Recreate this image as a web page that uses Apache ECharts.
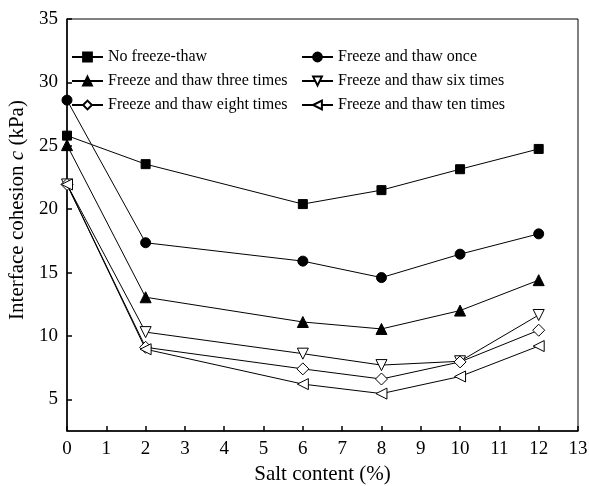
<!DOCTYPE html>
<html><head><meta charset="utf-8">
<script src="https://cdn.jsdelivr.net/npm/echarts@6/dist/echarts.min.js"></script>
<style>html,body{margin:0;padding:0;background:#fff}#c{width:589px;height:486px}</style>
</head><body><div id="c"></div>
<script>
const salt = [0, 2, 6, 8, 10, 12];
const noFT = [25.8, 23.55, 20.4, 21.5, 23.15, 24.75];
const once = [28.6, 17.35, 15.9, 14.6, 16.45, 18.05];
const three = [25.05, 13.05, 11.1, 10.55, 12.0, 14.4];
const six = [21.95, 10.3, 8.6, 7.7, 8.0, 11.65];
const eight = [21.95, 9.1, 7.4, 6.6, 7.95, 10.45];
const ten = [21.95, 8.95, 6.2, 5.45, 6.8, 9.2];
const yTicks = [5, 10, 15, 20, 25, 30, 35];
const names = ['No freeze-thaw','Freeze and thaw once','Freeze and thaw three times','Freeze and thaw six times','Freeze and thaw eight times','Freeze and thaw ten times'];

const font = 'Liberation Serif';
const pair = v => salt.map((x, i) => [x, v[i]]);
function s(name, data, symbol, size, fill, rot) {
  return {name, type:'line', data:pair(data), symbol, symbolSize:size, symbolRotate:rot||0,
    lineStyle:{color:'#000', width:1}, itemStyle:{color:fill, borderColor:'#000', borderWidth:1},
    emphasis:{disabled:true}, animation:false};
}
const chart = echarts.init(document.getElementById('c'));
const legendCommon = {orient:'vertical', itemWidth:31, itemHeight:11, itemGap:8,
  textStyle:{fontFamily:font, fontSize:16, color:'#000'}, selectedMode:false};
chart.setOption({
  backgroundColor:'#fff',
  animation:false,
  grid:{left:67, right:11, top:19, bottom:55, show:true, borderColor:'#000', borderWidth:1,
    containLabel:false, outerBoundsMode:'none'},
  legend:[
    Object.assign({left:66, top:44, data:[names[0], names[2], names[4]]}, legendCommon),
    Object.assign({left:296, top:44, data:[names[1], names[3], names[5]]}, legendCommon)
  ],
  xAxis:{type:'value', min:0, max:13, interval:1,
    name:'Salt content (%)', nameLocation:'middle', nameGap:30,
    nameTextStyle:{fontFamily:font, fontSize:21, color:'#000'},
    axisLine:{lineStyle:{color:'#000', width:1.5}},
    axisTick:{inside:true, length:5, lineStyle:{color:'#000', width:1.5}},
    axisLabel:{fontFamily:font, fontSize:19, color:'#000', margin:9},
    splitLine:{show:false}},
  yAxis:{type:'value', min:2.5, max:35,
    name:'Interface cohesion {i|c} (kPa)', nameLocation:'middle', nameGap:38,
    nameTextStyle:{fontFamily:font, fontSize:21, color:'#000', padding:[0,0,0,30],
      rich:{i:{fontFamily:font, fontSize:21, fontStyle:'italic', color:'#000'}}},
    axisLine:{lineStyle:{color:'#000', width:1.5}},
    axisTick:{inside:true, length:5, lineStyle:{color:'#000', width:1.5}, customValues:yTicks},
    axisLabel:{fontFamily:font, fontSize:19, color:'#000', margin:9, customValues:yTicks},
    splitLine:{show:false}},
  series:[
    s(names[0], noFT, 'rect', 9, '#000'),
    s(names[1], once, 'circle', 10, '#000'),
    s(names[2], three, 'triangle', 11, '#000'),
    s(names[3], six, 'triangle', 11, '#fff', 180),
    s(names[4], eight, 'diamond', 12, '#fff'),
    s(names[5], ten, 'triangle', 11, '#fff', 90)
  ]
});
</script></body></html>
